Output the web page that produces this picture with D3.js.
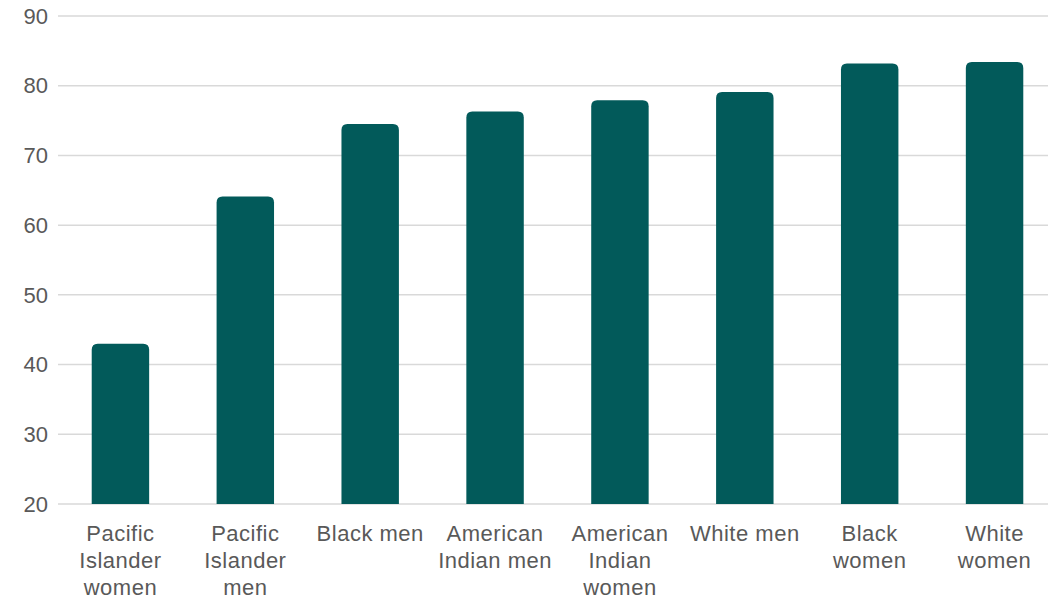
<!DOCTYPE html>
<html><head><meta charset="utf-8">
<script src="https://cdn.jsdelivr.net/npm/d3@7"></script>
<style>
html,body{margin:0;padding:0;background:#fff;}
svg{display:block;}
text{font-family:"Liberation Sans",Arial,sans-serif;fill:#595959;}
</style></head>
<body><svg id="c" width="1048" height="600"></svg>
<script>
const categories = ["Pacific Islander women","Pacific Islander men","Black men","American Indian men","American Indian women","White men","Black women","White women"];
const values = [43.0, 64.1, 74.5, 76.3, 77.9, 79.1, 83.2, 83.4];
const yTicks = [20,30,40,50,60,70,80,90];

(function(){
const svg = d3.select("#c");
const W = 1048;
const pLeft = 58, pRight = 1057, pTop = 16, pBottom = 504;

const x = d3.scaleBand().domain(categories).range([pLeft, pRight]).paddingInner(0.54).paddingOuter(0.27);
const y = d3.scaleLinear().domain([20, 90]).range([pBottom, pTop]);

// gridlines
svg.append("g").selectAll("line").data(yTicks).join("line")
  .attr("x1", pLeft).attr("x2", W)
  .attr("y1", d => y(d)).attr("y2", d => y(d))
  .attr("stroke", "#d9d9d9").attr("stroke-width", 1.5);

// y tick labels
svg.append("g").selectAll("text").data(yTicks).join("text")
  .attr("x", 48).attr("y", d => y(d)).attr("dy", "0.35em")
  .attr("text-anchor", "end").style("font-size", "22px")
  .text(d => d);

// bars with rounded top
const r = 6;
function barPath(d, i) {
  const x0 = x(categories[i]), w = x.bandwidth();
  const yt = y(d), yb = y(20);
  return `M${x0},${yb} L${x0},${yt + r} Q${x0},${yt} ${x0 + r},${yt} L${x0 + w - r},${yt} Q${x0 + w},${yt} ${x0 + w},${yt + r} L${x0 + w},${yb} Z`;
}
svg.append("g").selectAll("path").data(values).join("path")
  .attr("d", barPath).attr("fill", "#025a5a");

// x labels with wrap
const lab = svg.append("g").selectAll("text").data(categories).join("text")
  .attr("text-anchor", "middle").style("font-size", "22px").style("letter-spacing", "0.5px")
  .attr("x", d => x(d) + x.bandwidth() / 2)
  .attr("y", 541);
lab.each(function(d) {
  const t = d3.select(this);
  const cx = x(d) + x.bandwidth() / 2;
  const words = d.split(" ");
  const maxW = 124;
  let lines = [], cur = [];
  const tmp = t.append("tspan");
  words.forEach(wd => {
    const trial = cur.concat([wd]).join(" ");
    tmp.text(trial);
    if (tmp.node().getComputedTextLength() > maxW && cur.length) {
      lines.push(cur.join(" ")); cur = [wd];
    } else cur.push(wd);
  });
  lines.push(cur.join(" "));
  tmp.remove();
  lines.forEach((ln, k) => {
    t.append("tspan").attr("x", cx).attr("dy", k === 0 ? 0 : 27).text(ln);
  });
});
})();
</script></body></html>
